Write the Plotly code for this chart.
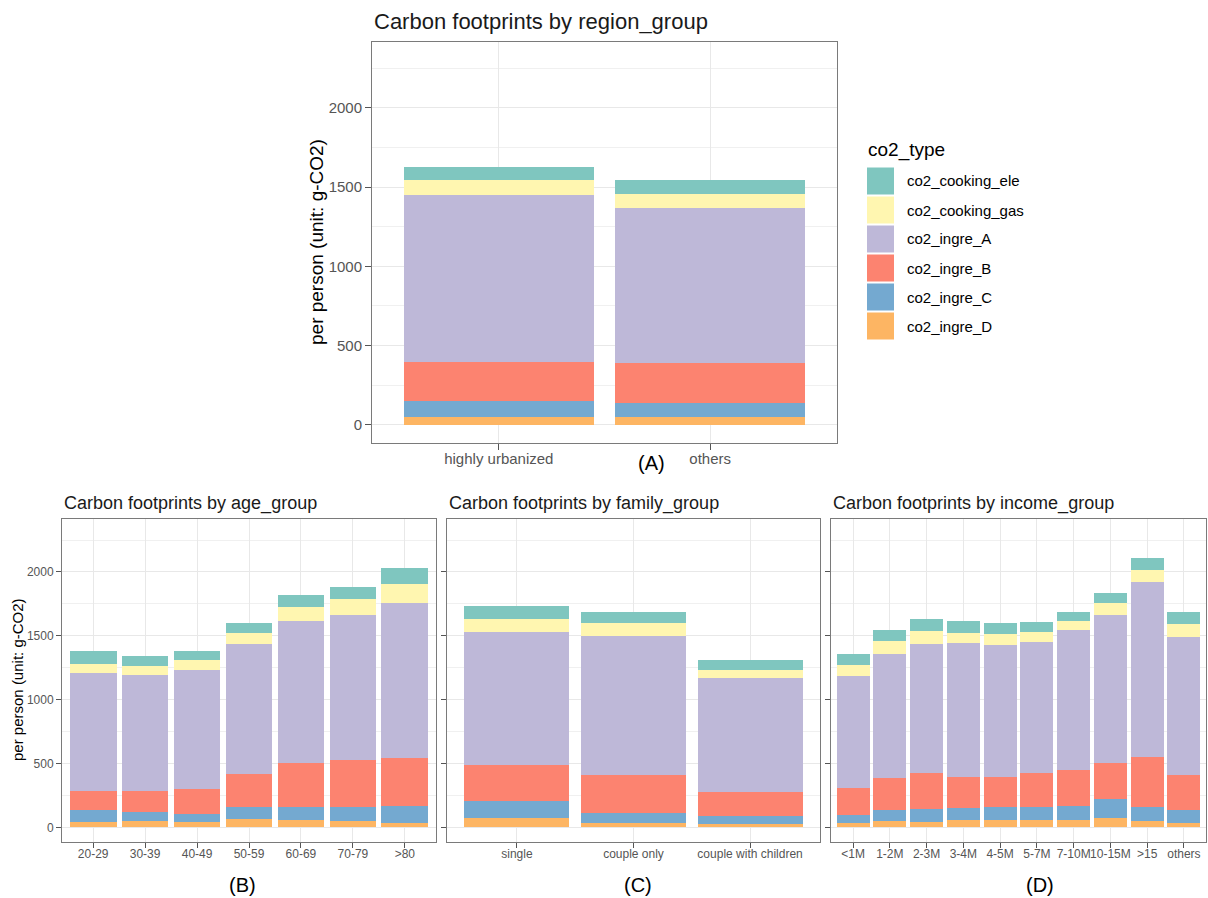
import plotly.graph_objects as go

# ---------------- data ----------------
co2_types = ["co2_cooking_ele", "co2_cooking_gas", "co2_ingre_A", "co2_ingre_B", "co2_ingre_C", "co2_ingre_D"]
colors = ["#7FC6BF", "#FFF6B0", "#BEB8D8", "#FC8370", "#74A9D0", "#FDB563"]

region_groups = ["highly urbanized", "others"]
region_ele = [84, 88]
region_gas = [94, 87]
region_A = [1051, 981]
region_B = [251, 251]
region_C = [95, 88]
region_D = [52, 48]

age_groups = ["20-29", "30-39", "40-49", "50-59", "60-69", "70-79", ">80"]
age_ele = [99, 78, 76, 81, 94, 99, 127]
age_gas = [70, 73, 78, 83, 114, 119, 146]
age_A = [925, 907, 930, 1024, 1115, 1136, 1216]
age_B = [148, 164, 192, 253, 344, 370, 375]
age_C = [99, 75, 68, 96, 99, 109, 133]
age_D = [39, 47, 39, 65, 57, 52, 34]

family_groups = ["single", "couple only", "couple with children"]
family_ele = [102, 89, 73]
family_gas = [104, 99, 65]
family_A = [1044, 1094, 896]
family_B = [281, 291, 184]
family_C = [130, 79, 63]
family_D = [76, 36, 26]

income_groups = ["<1M", "1-2M", "2-3M", "3-4M", "4-5M", "5-7M", "7-10M", "10-15M", ">15", "others"]
income_ele = [86, 88, 92, 97, 86, 83, 70, 78, 91, 94]
income_gas = [86, 99, 98, 83, 91, 78, 71, 94, 94, 104]
income_A = [878, 974, 1016, 1047, 1031, 1024, 1101, 1159, 1372, 1086]
income_B = [211, 250, 276, 239, 237, 271, 279, 281, 391, 273]
income_C = [62, 81, 102, 97, 102, 99, 112, 151, 109, 97]
income_D = [34, 52, 44, 57, 57, 57, 57, 73, 52, 36]

y_ticks = [0, 500, 1000, 1500, 2000]
y_range = [-115, 2415]

panels = [
    dict(title="Carbon footprints by region_group", letter="(A)", cats=region_groups,
         series=[region_ele, region_gas, region_A, region_B, region_C, region_D]),
    dict(title="Carbon footprints by age_group", letter="(B)", cats=age_groups,
         series=[age_ele, age_gas, age_A, age_B, age_C, age_D]),
    dict(title="Carbon footprints by family_group", letter="(C)", cats=family_groups,
         series=[family_ele, family_gas, family_A, family_B, family_C, family_D]),
    dict(title="Carbon footprints by income_group", letter="(D)", cats=income_groups,
         series=[income_ele, income_gas, income_A, income_B, income_C, income_D]),
]

# ---------------- layout geometry (pixels) ----------------
W, H = 1208, 898
FONT = "Liberation Sans, Arial, Helvetica, sans-serif"
boxes = [  # x0, x1, ytop, ybottom
    (372, 837, 42, 443),
    (62, 436, 519, 842),
    (447, 820, 519, 842),
    (831, 1206, 519, 842),
]

def px(x):
    return x / W

def py(y):
    return 1 - y / H

fig = go.Figure()
annotations = []
shapes = []

for i, p in enumerate(panels):
    n = i + 1
    xa = "x" if n == 1 else f"x{n}"
    ya = "y" if n == 1 else f"y{n}"
    # stack bottom-up: D, C, B, A, gas, ele
    for k in reversed(range(len(co2_types))):
        fig.add_trace(go.Bar(
            x=p["cats"], y=p["series"][k], name=co2_types[k],
            marker=dict(color=colors[k], line=dict(width=0)),
            xaxis=xa, yaxis=ya, showlegend=False,
        ))
    x0, x1, yt, yb = boxes[i]
    big = (i == 0)
    tick_size = 15 if big else 12
    grid = "#E8E8E8"
    xkey = "xaxis" if n == 1 else f"xaxis{n}"
    ykey = "yaxis" if n == 1 else f"yaxis{n}"
    ncat = len(p["cats"])
    fig.layout[xkey] = dict(
        domain=[px(x0), px(x1)], anchor=ya, type="category",
        range=[-0.6, ncat - 1 + 0.6], tickangle=0,
        showgrid=True, gridcolor=grid, gridwidth=1.2,
        showline=True, mirror=True, linecolor="#7A7A7A", linewidth=1,
        ticks="outside", ticklen=6 if big else 5, tickcolor="#555555", tickwidth=1,
        ticklabelstandoff=-4,
        tickfont=dict(family=FONT, size=tick_size, color="#555555"),
        zeroline=False, fixedrange=True,
    )
    fig.layout[ykey] = dict(
        domain=[py(yb), py(yt)], anchor=xa,
        range=y_range, tickvals=y_ticks, ticktext=[str(v) for v in y_ticks],
        showgrid=True, gridcolor=grid, gridwidth=1.2,
        minor=dict(dtick=250, tick0=0, showgrid=True, gridcolor="#F0F0F0", gridwidth=0.9, ticks=""),
        showline=True, mirror=True, linecolor="#7A7A7A", linewidth=1,
        ticks="outside", ticklen=6 if big else 5, tickcolor="#555555", tickwidth=1,
        tickfont=dict(family=FONT, size=tick_size, color="#555555"),
        showticklabels=(i <= 1),
        zeroline=False, fixedrange=True,
    )
    # panel title
    annotations.append(dict(
        text=p["title"], x=px(x0), y=py(21 if big else 503), xref="paper", yref="paper",
        xanchor="left", yanchor="middle", showarrow=False,
        font=dict(family=FONT, size=22 if big else 18, color="#1A1A1A"),
    ))

# panel letters
letters_pos = [(651, 463), (242, 885), (638, 885), (1040, 885)]
for p, (lx, ly) in zip(panels, letters_pos):
    annotations.append(dict(
        text=p["letter"], x=px(lx), y=py(ly), xref="paper", yref="paper",
        xanchor="center", yanchor="middle", showarrow=False,
        font=dict(family=FONT, size=20, color="#000000"),
    ))

# y-axis titles
annotations.append(dict(
    text="per person (unit: g-CO2)", x=px(316), y=py(242), xref="paper", yref="paper",
    xanchor="center", yanchor="middle", showarrow=False, textangle=-90,
    font=dict(family=FONT, size=19, color="#000000"),
))
annotations.append(dict(
    text="per person (unit: g-CO2)", x=px(17), y=py(680), xref="paper", yref="paper",
    xanchor="center", yanchor="middle", showarrow=False, textangle=-90,
    font=dict(family=FONT, size=15, color="#000000"),
))

# legend (drawn manually to match large square keys)
annotations.append(dict(
    text="co2_type", x=px(866), y=py(150), xref="paper", yref="paper",
    xanchor="left", yanchor="middle", showarrow=False,
    font=dict(family=FONT, size=19, color="#000000"),
))
for j, (name, col) in enumerate(zip(co2_types, colors)):
    top = 167.5 + j * 29
    shapes.append(dict(
        type="rect", xref="paper", yref="paper",
        x0=px(867), x1=px(894), y0=py(top + 27), y1=py(top),
        fillcolor=col, line=dict(width=0),
    ))
    annotations.append(dict(
        text=name, x=px(905), y=py(top + 13.5), xref="paper", yref="paper",
        xanchor="left", yanchor="middle", showarrow=False,
        font=dict(family=FONT, size=15, color="#000000"),
    ))

fig.update_layout(
    width=W, height=H, margin=dict(l=0, r=0, t=0, b=0),
    barmode="stack", bargap=0.1,
    paper_bgcolor="white", plot_bgcolor="white",
    showlegend=False,
    annotations=annotations, shapes=shapes,
    font=dict(family=FONT),
)

fig.write_html("out.html")
